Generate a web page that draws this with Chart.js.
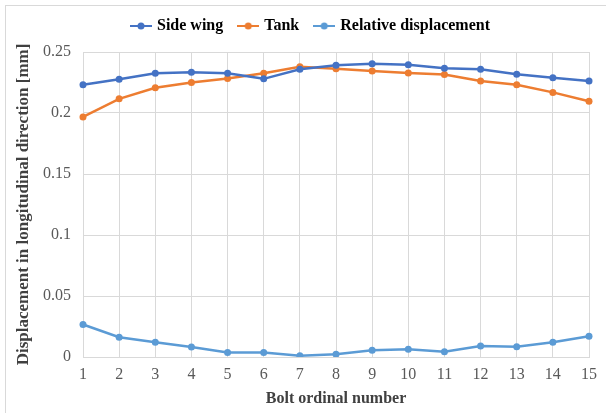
<!DOCTYPE html>
<html>
<head>
<meta charset="utf-8">
<script src="https://cdn.jsdelivr.net/npm/chart.js@4"></script>
<style>
  html, body { margin: 0; padding: 0; background: #fff; }
  #wrap { position: relative; width: 606px; height: 413px; overflow: hidden; }
  #frame { position: absolute; left: 5px; top: 5px; width: 700px; height: 500px; border: 1px solid #d9d9d9; }
  #chart { position: absolute; left: 0; top: 0; }
</style>
</head>
<body>
<div id="wrap">
  <div id="frame"></div>
  <canvas id="chart" width="606" height="413"></canvas>
</div>
<script>
// bolt numbers on the x axis
const bolts = ['1', '2', '3', '4', '5', '6', '7', '8', '9', '10', '11', '12', '13', '14', '15'];

// displacement in mm
const sideWing = [0.2231, 0.2277, 0.2325, 0.2333, 0.2325, 0.2280, 0.2358, 0.2392, 0.2403, 0.2395, 0.2366, 0.2358, 0.2317, 0.2288, 0.2263];
const tank = [0.1968, 0.2116, 0.2207, 0.2250, 0.2282, 0.2325, 0.2379, 0.2363, 0.2344, 0.2328, 0.2315, 0.2263, 0.2231, 0.2169, 0.2097];
const relative = [0.0266, 0.0162, 0.0121, 0.0082, 0.0036, 0.0036, 0.0011, 0.0022, 0.0055, 0.0063, 0.0044, 0.0091, 0.0085, 0.0121, 0.0170];

const yTicks = [0, 0.05, 0.1, 0.15, 0.2, 0.25];

const serif = "'Liberation Serif', 'Times New Roman', serif";

// little "line with a dot" symbol for the legend
function legendMark(color) {
    const c = document.createElement('canvas');
    c.width = 22;
    c.height = 8;
    const g = c.getContext('2d');
    g.strokeStyle = color;
    g.lineWidth = 2;
    g.beginPath();
    g.moveTo(0, 4);
    g.lineTo(22, 4);
    g.stroke();
    g.fillStyle = color;
    g.beginPath();
    g.arc(11, 4, 3.5, 0, Math.PI * 2);
    g.fill();
    return c;
}

function makeSet(label, data, color) {
    return {
        label: label,
        data: data,
        borderColor: color,
        backgroundColor: color,
        borderWidth: 2.5,
        pointRadius: 3.5,
        pointBorderWidth: 0,
        pointStyle: 'circle',
        tension: 0,
        fill: false,
        mark: legendMark(color)
    };
}

// push the plot down below the legend, and nudge the legend a bit right
const legendGap = {
    id: 'legendGap',
    beforeInit(chart) {
        const fit = chart.legend.fit;
        chart.legend.fit = function() {
            fit.bind(chart.legend)();
            this.height += 8;
        };
    },
    afterLayout(chart) {
        chart.legend.left += 12;
        chart.legend.right += 12;
    }
};

new Chart(document.getElementById('chart').getContext('2d'), {
    type: 'line',
    data: {
        labels: bolts,
        datasets: [
            makeSet('Side wing', sideWing, '#4472c4'),
            makeSet('Tank', tank, '#ed7d31'),
            makeSet('Relative displacement', relative, '#5b9bd5')
        ]
    },
    options: {
        responsive: false,
        animation: false,
        layout: { padding: { left: 10, right: 17, top: 1, bottom: 0 } },
        plugins: {
            tooltip: { enabled: false },
            legend: {
                position: 'top',
                labels: {
                    usePointStyle: true,
                    pointStyleWidth: 16,
                    padding: 17,
                    color: '#404040',
                    font: { family: serif, size: 16, weight: 'bold' },
                    generateLabels(chart) {
                        return chart.data.datasets.map((ds, i) => ({
                            text: ds.label,
                            pointStyle: ds.mark,
                            fillStyle: ds.borderColor,
                            strokeStyle: ds.borderColor,
                            lineWidth: 0,
                            hidden: false,
                            datasetIndex: i
                        }));
                    }
                }
            }
        },
        scales: {
            x: {
                type: 'category',
                offset: false,
                grid: { color: '#d9d9d9', drawTicks: false, offset: false },
                border: { color: '#d9d9d9' },
                ticks: { color: '#595959', padding: 8, font: { family: serif, size: 16 } },
                title: {
                    display: true,
                    text: 'Bolt ordinal number',
                    color: '#404040',
                    padding: { top: 0, bottom: 5 },
                    font: { family: serif, size: 16, weight: 'bold' }
                },
                afterFit(scale) { scale.height = 56; }
            },
            y: {
                min: 0,
                max: 0.25,
                grid: { color: '#d9d9d9', drawTicks: false },
                border: { color: '#d9d9d9' },
                afterBuildTicks(scale) { scale.ticks = yTicks.map(v => ({ value: v })); },
                ticks: {
                    color: '#595959',
                    padding: 12,
                    font: { family: serif, size: 16 },
                    callback: v => String(v)
                },
                title: {
                    display: true,
                    text: 'Displacement in longitudinal direction [mm]',
                    color: '#404040',
                    padding: { top: 3, bottom: 0 },
                    font: { family: serif, size: 17, weight: 'bold' }
                },
                afterFit(scale) { scale.width = 73; }
            }
        }
    },
    plugins: [legendGap]
});
</script>
</body>
</html>
